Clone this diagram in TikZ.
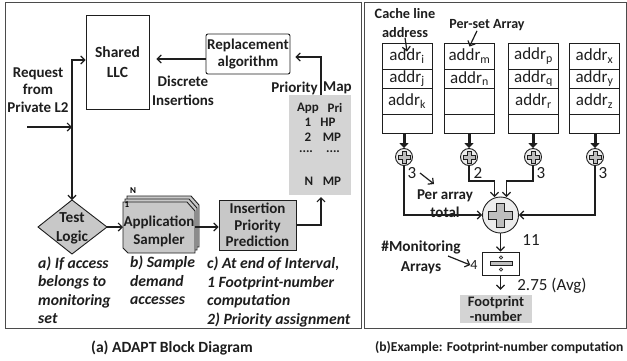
\documentclass[tikz,border=0pt]{standalone}
\usepackage{fontspec}
\setmainfont{Carlito}
\usetikzlibrary{arrows.meta}
\definecolor{boxgray}{RGB}{200,200,200}
\definecolor{mapgray}{RGB}{212,212,212}
\definecolor{circgray}{RGB}{236,236,236}
\definecolor{crossgray}{RGB}{190,190,190}
\definecolor{inkc}{RGB}{30,30,30}
\tikzset{
  lbl/.style={font=\fontsize{15}{17.5}\selectfont\bfseries, align=center, inner sep=0pt, text=inkc},
  smalltxt/.style={font=\fontsize{13}{15}\selectfont\bfseries, inner sep=0pt, text=inkc},
  notetxt/.style={font=\fontsize{15.7}{18.5}\selectfont\bfseries\itshape, align=left, inner sep=0pt, anchor=west, text=inkc},
  captxt/.style={font=\fontsize{15.6}{17}\selectfont\bfseries, inner sep=0pt, text=inkc},
  numtxt/.style={font=\fontsize{17}{19}\selectfont, inner sep=0pt, text=inkc},
  cellbox/.style={draw=inkc, line width=0.9pt, minimum width=50pt, inner sep=0pt, font=\fontsize{17}{18}\selectfont, text=inkc},
  arr/.style={draw=inkc, line width=1.2pt, -{Straight Barb[length=4pt,width=8pt,line width=1.2pt]}},
  thickarr/.style={draw=inkc, line width=3pt, -{Triangle[length=5pt,width=9pt]}},
  panelframe/.style={draw=inkc!80, line width=1pt},
  pics/plussym/.style={code={
    \draw[draw=inkc, fill=crossgray, line width=0.7pt]
      (-2,-6) -- (2,-6) -- (2,-2) -- (6,-2) -- (6,2) -- (2,2) -- (2,6) -- (-2,6) -- (-2,2) -- (-6,2) -- (-6,-2) -- (-2,-2) -- cycle;}}
}
\begin{document}
\begin{tikzpicture}[x=1pt,y=-1pt]
\useasboundingbox (0,0) rectangle (627,360);
\fill[white] (0,0) rectangle (627,360);

% panels
\draw[panelframe] (5,2) rectangle (361,328);
\draw[panelframe] (364,2) rectangle (626,328);

% ---------- left panel ----------
\node[draw=inkc, line width=0.9pt, minimum width=63pt, minimum height=94pt, lbl, font=\fontsize{15.5}{20}\selectfont\bfseries] (llc) at (117.5,62) {Shared\\LLC};
\node[lbl] (req) at (38,90) {Request\\from\\Private L2};
\node[draw=inkc, line width=0.9pt, rounded corners=2pt, minimum width=84pt, minimum height=40pt, lbl] (rep) at (248,54) {Replacement\\algorithm};
\node[lbl, font=\fontsize{15}{19}\selectfont\bfseries] (disc) at (183,91) {Discrete\\Insertions};

% priority map
\node[fill=mapgray, minimum width=62pt, minimum height=100pt, inner sep=0pt] (pm) at (320,145) {};
\node[lbl, anchor=east] (pmlA) at (318,88) {Priority};
\node[lbl, anchor=west] (pmlB) at (323,88) {Map};
\node[smalltxt] (h1) at (308,108) {App};
\node[smalltxt] (h2) at (335,108) {Pri};
\node[smalltxt] (r1a) at (308,122) {1};
\node[smalltxt] (r1b) at (328,122) {HP};
\node[smalltxt] (r2a) at (308,137) {2};
\node[smalltxt] (r2b) at (332,137) {MP};
\node[smalltxt] (r3a) at (306,152) {....};
\node[smalltxt] (r3b) at (333,152) {....};
\node[smalltxt] (r4a) at (309,181) {N};
\node[smalltxt] (r4b) at (332,181) {MP};
\coordinate (pmtop) at (321,95);
\coordinate (pmbot) at (321,195);

% test logic diamond
\coordinate (tlN) at (72,200);
\coordinate (tlE) at (107,227);
\draw[draw=inkc, line width=0.9pt, fill=boxgray] (38,227) -- (tlN) -- (tlE) -- (72,254) -- cycle;
\node[lbl, font=\fontsize{15.3}{19}\selectfont\bfseries] (tl) at (72,228) {Test\\Logic};

% application sampler stack
\foreach \d in {4,2,0}{
  \draw[draw=inkc, line width=0.9pt, fill=boxgray]
    (123+\d,202-\d*1.5) -- (187+\d,202-\d*1.5) -- (195+\d,211-\d*1.5) -- (195+\d,253-\d*1.5)
    -- (128+\d,253-\d*1.5) -- (123+\d,248-\d*1.5) -- cycle;
}
\node[lbl, font=\fontsize{15}{18}\selectfont\bfseries] (samp) at (159,231) {Application\\Sampler};
\node[font=\fontsize{9}{10}\selectfont\bfseries, inner sep=0pt] (sN) at (133,191) {N};
\node[font=\fontsize{9}{10}\selectfont\bfseries, inner sep=0pt] (s1) at (127,205) {1};
\coordinate (sW) at (123,227);
\coordinate (sE) at (195,227);

% insertion priority prediction
\node[draw=inkc, line width=0.9pt, fill=boxgray, minimum width=77pt, minimum height=50pt, lbl, font=\fontsize{15}{16.5}\selectfont\bfseries] (ipp) at (257.5,225) {Insertion\\Priority\\Prediction};

% connectors left panel
\coordinate (inL) at (27,127);
\coordinate (j) at (72,127);
\coordinate (jt) at (72,60);
\draw[arr] (inL) -- (j);
\draw[arr] (j) -- (jt) -- (jt -| llc.west);
\draw[arr] (j) -- (tlN);
\draw[arr, shorten >=7pt] ([yshift=-5pt]rep.west) -- ([yshift=-5pt]rep.west -| llc.east);
\draw[arr, shorten >=5pt] (pmtop) |- ([yshift=-3pt]rep.east);
\draw[arr] (tlE) -- (sW);
\draw[arr] (sE) -- (sE -| ipp.west);
\draw[arr, shorten >=2pt] (ipp.east) -| (pmbot);

% notes
\node[notetxt] (na) at (38,290) {a) If access\\belongs to\\monitoring\\set};
\node[notetxt] (nb) at (130,280.5) {b) Sample\\demand\\accesses};
\node[notetxt] (nc) at (207,292) {c) At end of Interval,\\1 Footprint-number\\computation\\2) Priority assignment};

\node[captxt] (capa) at (172,348) {(a) ADAPT Block Diagram};

% ---------- right panel ----------
\node[lbl, font=\fontsize{14.3}{19}\selectfont\bfseries] (cla) at (405,23) {Cache line\\address};
\node[lbl, font=\fontsize{14}{16}\selectfont\bfseries] (psa) at (487,25) {Per-set Array};

% arrays
\foreach \c/\x/\a/\b/\e in {1/407/i/j/k, 3/533.5/p/q/r, 4/594.5/x/y/z}{
  \node[cellbox, minimum height=26pt] (c\c1) at (\x,56) {addr\textsubscript{\a}};
  \node[cellbox, minimum height=19pt] (c\c2) at (\x,78.5) {addr\textsubscript{\b}};
  \node[cellbox, minimum height=26pt] (c\c3) at (\x,101) {addr\textsubscript{\e}};
  \node[cellbox, minimum height=19pt] (c\c4) at (\x,123.5) {};
}
\node[cellbox, minimum height=26pt] (c21) at (469.5,56) {addr\textsubscript{m}};
\node[cellbox, minimum height=19pt] (c22) at (469.5,78.5) {addr\textsubscript{n}};
\node[cellbox, minimum height=26pt] (c23) at (469.5,101) {};
\node[cellbox, minimum height=19pt] (c24) at (469.5,123.5) {};

\draw[arr] (cla.south) -- ([yshift=-9pt]c11.north);
\draw[arr] ([xshift=-10pt]psa.south) -- ([xshift=0pt,yshift=-4pt]c21.north);

% small adders
\foreach \i/\x in {1/404,2/469,3/533,4/595}{
  \node[draw=inkc, line width=0.9pt, circle, fill=circgray, minimum size=17pt, inner sep=0pt] (p\i) at (\x,157) {};
  \pic at (\x,157) {plussym};
}
\draw[thickarr] (404,133) -- (p1.north);
\draw[thickarr] (c24.south -| p2) -- (p2.north);
\draw[thickarr] (c34.south -| p3) -- (p3.north);
\draw[thickarr] (c44.south -| p4) -- (p4.north);

\node[numtxt] (n1) at (412,173) {3};
\node[numtxt] (n2) at (478,173) {2};
\node[numtxt] (n3) at (541,173) {3};
\node[numtxt] (n4) at (603,173) {3};

% big adder
\node[draw=inkc, line width=0.9pt, circle, fill=circgray, minimum size=36pt, inner sep=0pt] (big) at (500.5,215) {};
\pic[scale=2] at (500.5,215) {plussym};
\coordinate (b2) at (494.5,197);
\coordinate (b3) at (506.5,197);

\draw[arr] (p1.south) |- (big.west);
\draw[arr] (p2.south) -- ++(0,15) -| (b2);
\draw[arr] (p3.south) -- ++(0,15) -| (b3);
\draw[arr] (p4.south) |- (big.east);

\node[lbl] (pat) at (445,203.5) {Per array\\total};
\coordinate (pa1) at (420,173);
\coordinate (pa2) at (434,184);
\draw[arr] (pa1) -- (pa2);

\node[numtxt] (n11) at (531,240) {11};

% divider
\node[draw=inkc, line width=0.9pt, minimum width=37pt, minimum height=23pt, inner sep=0pt] (div) at (500.5,263.5) {};
\draw[draw=inkc, fill=crossgray, line width=0.7pt] (490,261.5) rectangle (512,265.5);
\draw[draw=inkc, fill=crossgray, line width=0.6pt] (501,257.5) circle (1.8);
\draw[draw=inkc, fill=crossgray, line width=0.6pt] (501,269.5) circle (1.8);
\node[numtxt, font=\fontsize{14}{16}\selectfont] (four) at (474,265) {4};
\node[lbl, font=\fontsize{15.3}{20}\selectfont\bfseries] (mon) at (421,257) {\#Monitoring\\Arrays};
\coordinate (ma1) at (448,256);
\draw[arr] (ma1) -- (four.west);
\draw[arr] (big.south) -- (div.north);

\node[fill=mapgray, minimum width=72pt, minimum height=28pt, inner sep=0pt, lbl, font=\fontsize{14.5}{15.5}\selectfont\bfseries] (fp) at (496,309) {Footprint\\-number};
\draw[arr, shorten >=5pt] (div.south) -- (div.south |- fp.north);
\node[numtxt] (avg) at (552,286) {2.75 (Avg)};

\node[captxt, anchor=west, font=\fontsize{13.6}{16}\selectfont\bfseries] (capb) at (375,348) {(b)Example: Footprint-number computation};
\end{tikzpicture}
\end{document}
